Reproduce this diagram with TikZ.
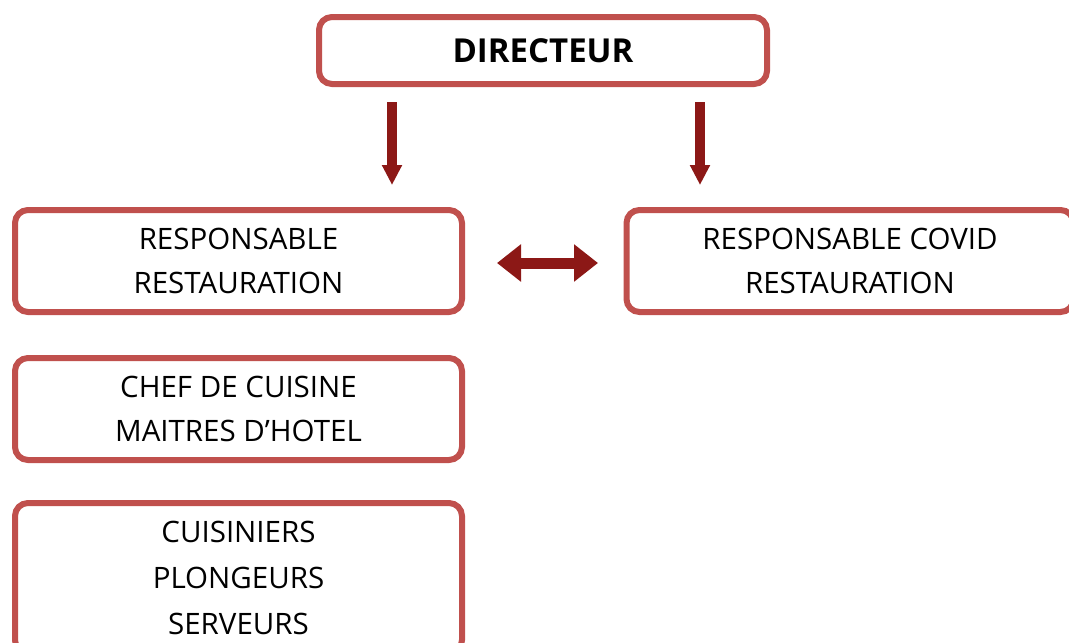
\documentclass[tikz,border=0pt]{standalone}
\usepackage{fontspec}
\setmainfont{Open Sans}
\usetikzlibrary{arrows.meta}
\definecolor{boxred}{RGB}{192,80,77}
\definecolor{arrred}{RGB}{140,24,22}
\begin{document}
\begin{tikzpicture}[x=1pt,y=-1pt,
  orgbox/.style={draw=boxred, line width=6pt, rounded corners=13pt, fill=white,
    minimum width=447pt, align=center, inner sep=0pt,
    font=\fontsize{29.5}{44}\selectfont},
  downarr/.style={draw=arrred, line width=10pt,
    -{Triangle[width=19pt,length=20pt]}},
  sidearr/.style={draw=arrred, line width=11pt,
    {Triangle[width=36pt,length=24pt]}-{Triangle[width=36pt,length=24pt]}}]
\useasboundingbox (0,0) rectangle (1069,643);
\clip (0,0) rectangle (1069,643);
\node[orgbox, minimum width=448pt, minimum height=67pt, font=\fontsize{33}{36}\bfseries] (dir) at (543,50.5) {DIRECTEUR};
\node[orgbox, minimum height=102pt] (resto) at (238.5,261) {RESPONSABLE\\RESTAURATION};
\node[orgbox, minimum height=102pt] (covid) at (850,261) {RESPONSABLE COVID\\RESTAURATION};
\node[orgbox, minimum height=102pt] (chef) at (238.5,409) {CHEF DE CUISINE\\MAITRES D’HOTEL};
\node[orgbox, minimum height=150pt, font=\fontsize{29.5}{46}\selectfont] (cuis) at (238.5,578) {CUISINIERS\\PLONGEURS\\SERVEURS};
\coordinate (a1) at (392,102);
\coordinate (a1e) at (392,185);
\coordinate (a2) at (700,102);
\coordinate (a2e) at (700,185);
\coordinate (b1) at (497,263);
\coordinate (b2) at (598,263);
\draw[downarr] (a1) -- (a1e);
\draw[downarr] (a2) -- (a2e);
\draw[sidearr] (b1) -- (b2);
\end{tikzpicture}
\end{document}
